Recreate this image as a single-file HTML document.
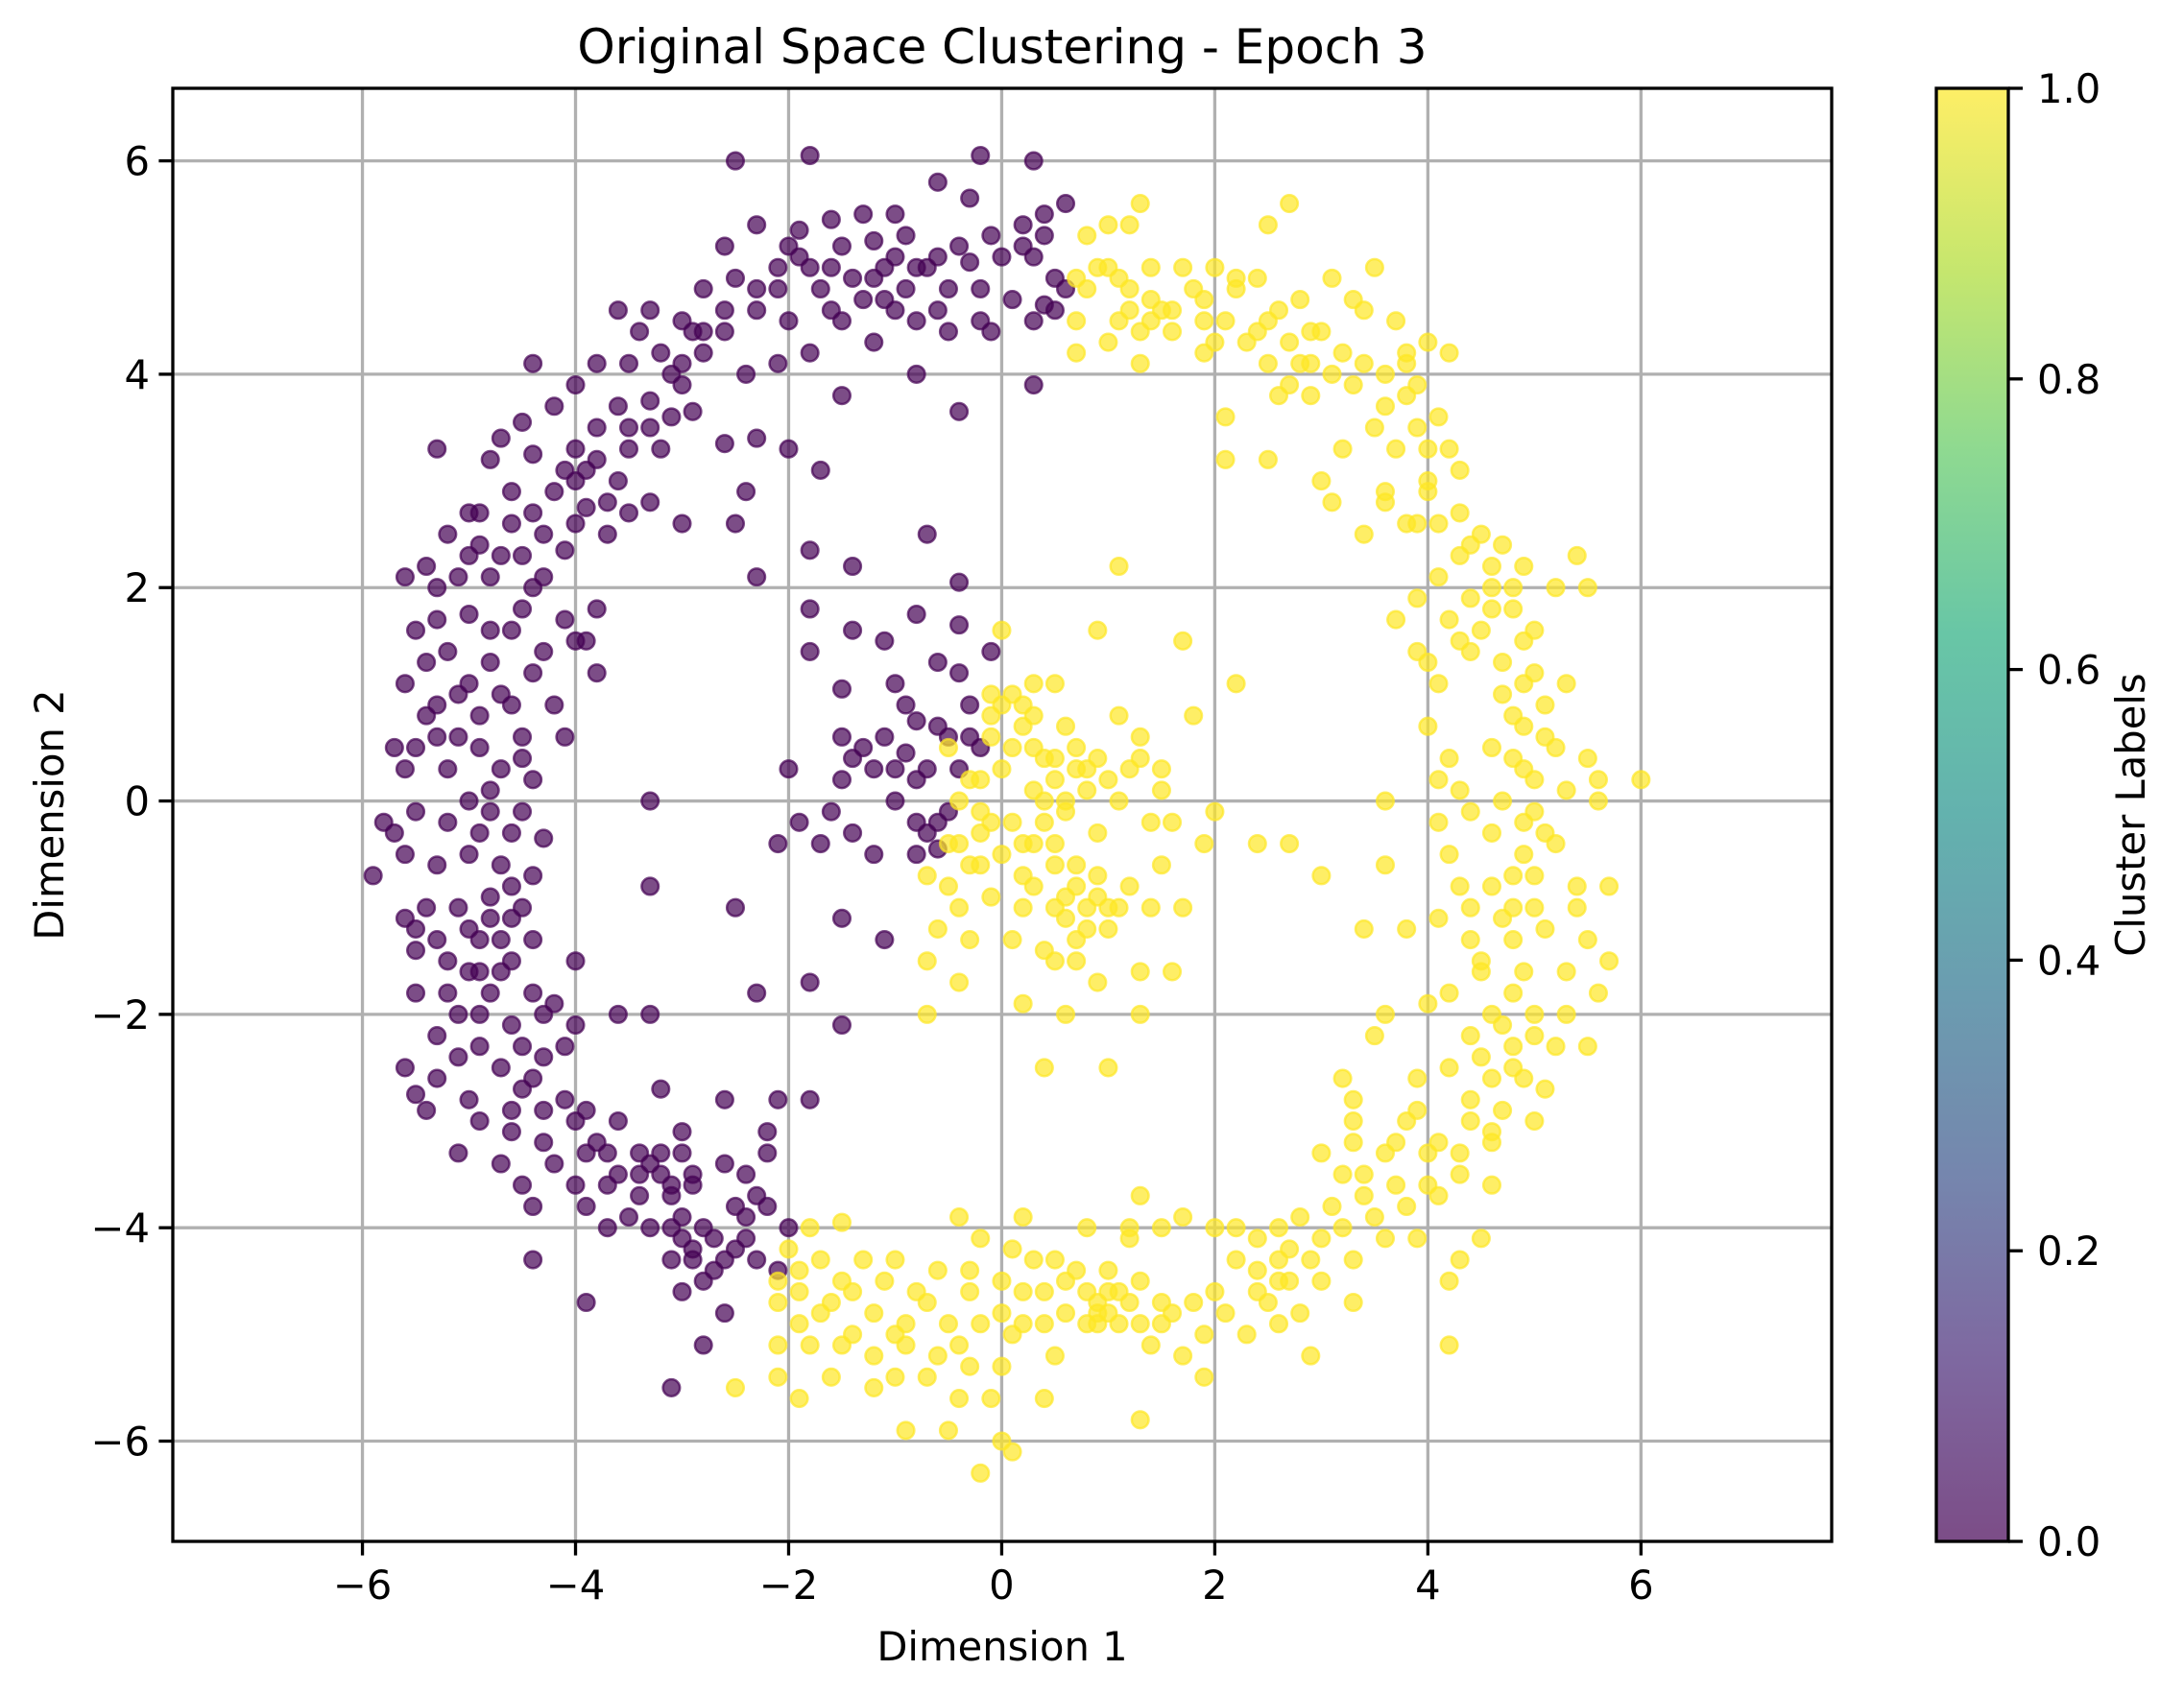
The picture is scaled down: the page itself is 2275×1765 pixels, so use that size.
<!DOCTYPE html>
<html><head><meta charset="utf-8">
<style>
html,body{margin:0;padding:0;background:#fff;}
svg{display:block;font-family:"DejaVu Sans","Liberation Sans",sans-serif;}
</style></head>
<body>
<svg id="chart" width="2275" height="1765" viewBox="0 0 2275 1765" xmlns="http://www.w3.org/2000/svg">
<defs>
<linearGradient id="viridis" x1="0" y1="1" x2="0" y2="0">
<stop offset="0" stop-color="#440154"/><stop offset="0.125" stop-color="#482878"/><stop offset="0.25" stop-color="#3b528b"/><stop offset="0.375" stop-color="#2c728e"/><stop offset="0.5" stop-color="#21918c"/><stop offset="0.625" stop-color="#28ae80"/><stop offset="0.75" stop-color="#5ec962"/><stop offset="0.875" stop-color="#addc30"/><stop offset="1" stop-color="#fde725"/>
</linearGradient>
</defs>
<text x="1044" y="66" font-size="50" text-anchor="middle">Original Space Clustering - Epoch 3</text>
<g id="grid"></g>
<g id="points"></g>
<rect x="180" y="92" width="1728" height="1514" fill="none" stroke="#000" stroke-width="3.3"/>
<g id="axes"></g>
<text x="1044" y="1730" font-size="41.7" text-anchor="middle">Dimension 1</text>
<text transform="translate(66,849) rotate(-90)" font-size="41.7" text-anchor="middle">Dimension 2</text>
<rect x="2017" y="92" width="75" height="1514" fill="url(#viridis)" fill-opacity="0.7" stroke="#000" stroke-width="3.3"/>
<g id="cbar"></g>
<text transform="translate(2234,849) rotate(-90)" font-size="41.7" text-anchor="middle">Cluster Labels</text>
</svg>
<script>
const xTicks = [-6,-4,-2,0,2,4,6];
const yTicks = [-6,-4,-2,0,2,4,6];
const cbarTicks = ["0.0","0.2","0.4","0.6","0.8","1.0"];
const cluster0 = [[-1.8,6.05],[-0.2,6.05],[-2.5,6.0],[0.3,6.0],[-0.6,5.8],[-0.3,5.65],[0.6,5.6],[0.4,5.5],[0.2,5.4],[-1.0,5.5],[-1.3,5.5],[-1.6,5.45],[-1.9,5.35],[-2.3,5.4],[-0.9,5.3],[-1.2,5.25],[-1.5,5.2],[-2.0,5.2],[-0.6,5.1],[-0.3,5.05],[0.0,5.1],[0.3,5.1],[0.5,4.9],[-0.8,5.0],[-1.1,5.0],[-1.4,4.9],[-1.8,5.0],[-2.1,4.8],[-2.6,5.2],[-2.5,4.9],[-2.8,4.8],[-3.0,4.5],[-1.7,4.8],[-0.9,4.8],[-0.5,4.8],[0.1,4.7],[0.4,4.65],[0.6,4.8],[-0.2,4.5],[-0.6,4.6],[-1.0,4.6],[-1.3,4.7],[-1.5,4.5],[-2.0,4.5],[-2.3,4.6],[-2.6,4.4],[-2.9,4.4],[-3.2,4.2],[-3.4,4.4],[-3.6,4.6],[-3.3,4.6],[-1.2,4.3],[-0.5,4.4],[-0.1,4.4],[-1.8,4.2],[-2.1,4.1],[-2.4,4.0],[-2.8,4.2],[-3.1,4.0],[-3.5,4.1],[-3.8,4.1],[-4.0,3.9],[-4.4,4.1],[-0.8,4.0],[0.3,3.9],[-0.4,3.65],[-1.5,3.8],[-2.3,3.4],[-2.0,3.3],[-2.6,3.35],[-2.9,3.65],[-3.0,3.9],[-3.3,3.75],[-3.6,3.7],[-3.8,3.5],[-4.2,3.7],[-4.5,3.55],[-4.1,3.1],[-3.5,3.5],[-3.2,3.3],[-2.4,2.9],[-1.7,3.1],[-4.0,3.3],[-3.6,3.0],[-3.3,2.8],[-3.5,2.7],[-3.9,2.75],[-4.7,3.4],[-4.8,3.2],[-4.4,3.25],[-4.6,2.9],[-5.3,3.3],[-5.0,2.7],[-5.2,2.5],[-4.9,2.4],[-4.6,2.6],[-4.3,2.5],[-4.0,2.6],[-3.7,2.5],[-3.0,2.6],[-4.1,2.35],[-4.5,2.3],[-4.8,2.1],[-5.0,2.3],[-5.4,2.2],[-5.6,2.1],[-4.4,2.0],[-4.1,1.7],[-3.8,1.8],[-3.9,1.5],[-4.6,1.6],[-5.0,1.75],[-5.3,1.7],[-5.5,1.6],[-5.2,1.4],[-4.8,1.3],[-4.4,1.2],[-4.0,1.5],[-3.8,1.2],[-5.6,1.1],[-5.1,1.0],[-4.6,0.9],[-4.2,0.9],[-4.9,0.8],[-5.4,0.8],[-5.7,0.5],[-5.3,0.6],[-4.5,0.6],[-4.1,0.6],[-4.7,0.3],[-5.2,0.3],[-5.6,0.3],[-5.0,0.0],[-4.4,0.2],[-5.8,-0.2],[-5.5,-0.1],[-4.8,-0.1],[-4.3,-0.35],[-4.6,-0.3],[-5.9,-0.7],[-5.6,-0.5],[-5.3,-0.6],[-5.0,-0.5],[-4.7,-0.6],[-4.4,-0.7],[-4.8,-0.9],[-5.1,-1.0],[-4.6,-1.1],[-4.4,-1.3],[-4.9,-1.3],[-5.5,-1.2],[-5.5,-1.4],[-4.7,-1.6],[-5.0,-1.6],[-4.4,-1.8],[-5.2,-1.8],[-5.5,-1.8],[-4.0,-1.5],[-4.2,-1.9],[-4.9,-2.0],[-4.6,-2.1],[-5.3,-2.2],[-4.0,-2.1],[-4.3,-2.4],[-4.7,-2.5],[-5.1,-2.4],[-5.6,-2.5],[-4.5,-2.7],[-4.1,-2.8],[-3.9,-2.9],[-4.6,-2.9],[-5.0,-2.8],[-5.5,-2.75],[-4.3,-3.2],[-3.8,-3.2],[-4.7,-3.4],[-5.1,-3.3],[-4.5,-3.6],[-4.0,-3.6],[-3.6,-3.0],[-3.4,-3.3],[-3.2,-3.5],[-3.0,-3.3],[-3.6,-3.5],[-3.9,-3.8],[-3.4,-3.7],[-3.1,-3.7],[-2.9,-3.6],[-2.6,-3.4],[-2.4,-3.5],[-2.2,-3.3],[-2.1,-2.8],[-2.6,-2.8],[-3.0,-3.1],[-3.2,-2.7],[-3.6,-2.0],[-3.3,-2.0],[-3.0,-3.9],[-3.3,-4.0],[-3.7,-4.0],[-2.8,-4.0],[-2.5,-3.8],[-2.2,-3.8],[-2.0,-4.0],[-2.4,-4.1],[-2.9,-4.3],[-2.6,-4.3],[-3.1,-4.3],[-2.8,-4.5],[-2.3,-4.3],[-2.6,-4.8],[-3.0,-4.6],[-2.8,-5.1],[-3.1,-5.5],[-3.9,-4.7],[-4.4,-4.3],[-2.1,-4.4],[-2.2,-3.1],[-0.7,2.5],[-0.4,2.05],[-1.8,2.35],[-2.3,2.1],[-1.8,1.8],[-1.4,1.6],[-0.8,1.75],[-0.4,1.65],[-1.1,1.5],[-0.6,1.3],[-1.8,1.4],[-0.1,1.4],[-1.5,1.05],[-1.0,1.1],[-0.4,1.2],[-0.3,0.9],[-0.6,0.7],[-0.8,0.75],[-1.5,0.6],[-1.1,0.6],[-0.9,0.45],[-1.4,0.4],[-1.2,0.3],[-0.4,0.3],[-0.2,0.5],[-0.8,0.2],[-1.5,0.2],[-2.0,0.3],[-0.5,-0.1],[-1.0,0.0],[-0.8,-0.2],[-1.4,-0.3],[-1.6,-0.1],[-1.9,-0.2],[-2.1,-0.4],[-1.2,-0.5],[-0.8,-0.5],[-0.6,-0.45],[-1.7,-0.4],[-1.5,-1.1],[-1.1,-1.3],[-2.5,-1.0],[-1.8,-1.7],[-1.5,-2.1],[-3.3,-0.8],[-3.3,0.0],[-2.3,-1.8],[-1.4,2.2],[-2.5,2.6],[-1.8,-2.8]];
const cluster0b = [[-5.0,1.1],[-4.7,1.0],[-5.3,0.9],[-4.9,0.5],[-4.5,0.4],[-5.1,0.6],[-4.8,0.1],[-4.5,-0.1],[-4.9,-0.3],[-5.2,-0.2],[-4.6,-0.8],[-4.8,-1.1],[-4.5,-1.0],[-4.7,-1.3],[-4.6,-1.5],[-4.9,-1.6],[-4.8,-1.8],[-5.1,-2.0],[-4.9,-2.3],[-4.5,-2.3],[-4.4,-2.6],[-4.6,-3.1],[-4.9,-3.0],[-4.2,-3.4],[-4.4,-3.8],[-3.9,-3.3],[-3.7,-3.6],[-3.5,-3.9],[-3.4,-3.5],[-3.2,-3.3],[-3.1,-3.6],[-2.9,-3.5],[-3.0,-4.1],[-2.9,-4.2],[-3.1,-4.0],[-2.7,-4.1],[-2.7,-4.4],[-2.5,-4.2],[-2.4,-3.9],[-2.3,-3.7],[-3.3,-3.4],[-3.7,-3.3],[-4.0,-3.0],[-4.3,-2.9],[-5.3,-2.6],[-5.4,-2.9],[-5.2,-1.5],[-5.4,-1.0],[-5.7,-0.3],[-5.5,0.5],[-5.4,1.3],[-5.3,2.0],[-5.1,2.1],[-4.7,2.3],[-4.4,2.7],[-4.2,2.9],[-4.0,3.0],[-3.8,3.2],[-3.5,3.3],[-3.3,3.5],[-3.1,3.6],[-3.0,4.1],[-2.8,4.4],[-2.6,4.6],[-2.3,4.8],[-2.1,5.0],[-1.9,5.1],[-1.6,5.0],[-1.2,4.9],[-1.0,5.1],[-0.7,5.0],[-0.4,5.2],[-0.1,5.3],[0.2,5.2],[0.4,5.3],[0.5,4.6],[0.3,4.5],[-0.2,4.8],[-0.8,4.5],[-1.1,4.7],[-1.6,4.6],[-3.9,3.1],[-3.7,2.8],[-4.3,2.1],[-4.9,2.7],[-4.5,1.8],[-4.3,1.4],[-4.8,1.6],[-5.6,-1.1],[-5.0,-1.2],[-5.3,-1.3],[-4.3,-2.0],[-4.1,-2.3],[-0.7,0.3],[-0.5,0.6],[-0.9,0.9],[-0.3,0.6],[-0.7,-0.3],[-0.6,-0.2],[-1.3,0.5],[-1.0,0.3]];
const cluster1 = [[0.7,4.9],[0.8,5.3],[1.0,5.4],[1.2,5.4],[1.3,5.6],[0.9,5.0],[1.1,4.9],[1.4,5.0],[1.7,5.0],[1.8,4.8],[2.0,5.0],[2.2,4.8],[2.4,4.9],[2.6,4.6],[2.8,4.7],[2.7,5.6],[2.5,5.4],[3.1,4.9],[3.3,4.7],[3.5,5.0],[3.4,4.6],[3.7,4.5],[1.2,4.6],[1.4,4.5],[1.6,4.4],[0.7,4.5],[1.0,4.3],[1.3,4.1],[0.7,4.2],[1.9,4.2],[2.1,4.5],[2.3,4.3],[2.5,4.1],[2.8,4.1],[3.0,4.4],[3.2,4.2],[2.6,3.8],[2.9,3.8],[3.3,3.9],[3.6,4.0],[3.8,4.2],[4.0,4.3],[4.2,4.2],[3.5,3.5],[3.8,3.8],[3.9,3.5],[4.1,3.6],[4.0,3.3],[4.3,3.1],[3.2,3.3],[3.0,3.0],[3.1,2.8],[3.6,2.8],[3.4,2.5],[3.8,2.6],[4.0,2.9],[4.3,2.7],[4.5,2.5],[4.3,2.3],[4.7,2.4],[4.9,2.2],[4.6,2.0],[4.1,2.1],[3.9,1.9],[4.2,1.7],[4.5,1.6],[4.8,1.8],[5.0,1.6],[5.2,2.0],[5.4,2.3],[5.5,2.0],[4.4,1.4],[4.7,1.3],[5.0,1.2],[5.3,1.1],[5.1,0.9],[4.8,0.8],[4.6,0.5],[4.2,0.4],[4.9,0.3],[5.2,0.5],[5.5,0.4],[5.6,0.2],[6.0,0.2],[5.3,0.1],[5.0,-0.1],[4.7,0.0],[4.4,-0.1],[4.1,-0.2],[4.6,-0.3],[4.9,-0.5],[5.2,-0.4],[5.4,-0.8],[5.7,-0.8],[5.0,-0.7],[4.6,-0.8],[4.3,-0.8],[4.1,-1.1],[3.8,-1.2],[4.4,-1.3],[4.8,-1.3],[5.1,-1.2],[5.5,-1.3],[5.7,-1.5],[5.3,-1.6],[4.9,-1.6],[4.5,-1.6],[4.2,-1.8],[4.0,-1.9],[4.6,-2.0],[5.0,-2.0],[5.3,-2.0],[5.6,-1.8],[5.5,-2.3],[5.2,-2.3],[4.8,-2.3],[4.4,-2.2],[4.2,-2.5],[3.9,-2.6],[4.6,-2.6],[4.9,-2.6],[5.1,-2.7],[5.0,-3.0],[4.7,-2.9],[4.4,-3.0],[4.1,-3.2],[3.8,-3.0],[3.6,-3.3],[3.3,-3.2],[3.2,-3.5],[3.0,-3.3],[4.3,-3.5],[4.6,-3.2],[4.6,-3.6],[4.0,-3.6],[3.8,-3.8],[3.4,-3.7],[3.1,-3.8],[2.8,-3.9],[2.6,-4.0],[2.4,-4.1],[2.2,-4.0],[2.0,-4.0],[1.7,-3.9],[1.3,-3.7],[1.5,-4.0],[1.2,-4.1],[3.3,-2.8],[3.2,-2.6],[3.5,-2.2],[3.9,-2.9],[3.6,-2.0],[3.0,-4.1],[2.7,-4.2],[3.3,-4.3],[3.6,-4.1],[3.9,-4.1],[4.3,-4.3],[4.5,-4.1],[4.2,-4.5],[4.2,-5.1],[3.3,-4.7],[3.0,-4.5],[2.7,-4.5],[2.4,-4.4],[2.2,-4.3],[2.0,-4.6],[2.5,-4.7],[2.8,-4.8],[2.9,-5.2],[2.6,-4.9],[2.3,-5.0],[1.9,-5.0],[1.6,-4.8],[1.3,-4.5],[1.1,-4.6],[0.9,-4.7],[1.0,-4.4],[0.7,-4.4],[0.5,-4.3],[0.3,-4.3],[0.1,-4.2],[-0.2,-4.1],[-0.4,-3.9],[0.2,-3.9],[0.8,-4.0],[0.6,-4.8],[0.8,-4.9],[1.0,-4.8],[1.3,-4.9],[1.5,-4.9],[1.7,-5.2],[1.9,-5.4],[1.4,-5.1],[1.3,-5.8],[0.5,-5.2],[0.4,-5.6],[0.2,-4.9],[0.0,-4.8],[-0.2,-4.9],[-0.5,-4.9],[-0.7,-4.7],[-0.9,-4.9],[-1.2,-4.8],[-1.4,-4.6],[-1.6,-4.7],[-1.9,-4.6],[-2.1,-4.7],[-2.1,-5.1],[-1.8,-5.1],[-1.5,-5.1],[-1.2,-5.2],[-0.9,-5.1],[-0.6,-5.2],[-0.3,-5.3],[0.0,-5.3],[-0.1,-5.6],[-0.4,-5.6],[-0.7,-5.4],[-1.0,-5.4],[-1.2,-5.5],[-1.6,-5.4],[-1.9,-5.6],[-2.1,-5.4],[-2.5,-5.5],[-0.5,-5.9],[-0.9,-5.9],[0.0,-6.0],[0.1,-6.1],[-0.2,-6.3],[-1.3,-4.3],[-1.7,-4.3],[-1.9,-4.4],[-2.0,-4.2],[-1.8,-4.0],[-1.5,-3.95],[-1.0,-4.3],[-0.6,-4.4],[-0.3,-4.6],[0.2,-4.6],[1.2,-4.0],[4.0,0.7],[3.9,1.4],[4.1,1.1],[3.7,1.7],[3.6,-0.6],[3.4,-1.2],[3.6,0.0],[5.6,0.0],[5.4,-1.0],[4.8,-1.0],[2.4,-0.4],[2.7,-0.4],[3.0,-0.7],[2.1,3.2],[2.5,3.2],[2.1,3.6],[0.0,1.6],[0.3,1.1],[0.5,1.1],[0.2,0.9],[0.0,0.9],[-0.1,1.0],[0.6,0.7],[0.2,0.7],[-0.1,0.6],[0.1,0.5],[0.4,0.4],[0.7,0.5],[0.9,0.4],[1.1,0.8],[1.3,0.6],[1.2,0.3],[1.5,0.3],[1.8,0.8],[2.2,1.1],[1.7,1.5],[1.1,2.2],[0.9,1.6],[0.8,0.1],[0.5,0.2],[0.3,0.1],[0.0,0.3],[-0.3,0.2],[-0.4,0.0],[-0.2,-0.1],[0.1,-0.2],[0.4,-0.2],[0.6,-0.1],[0.9,-0.3],[1.1,0.0],[1.4,-0.2],[1.6,-0.2],[1.9,-0.4],[2.0,-0.1],[-0.5,-0.4],[-0.3,-0.6],[0.0,-0.5],[0.2,-0.7],[0.5,-0.6],[0.7,-0.8],[0.9,-0.7],[1.2,-0.8],[1.5,-0.6],[1.4,-1.0],[1.1,-1.0],[0.8,-1.0],[0.5,-1.0],[0.2,-1.0],[-0.1,-0.9],[-0.4,-1.0],[-0.6,-1.2],[-0.3,-1.3],[0.1,-1.3],[0.4,-1.4],[0.7,-1.3],[1.0,-1.2],[1.3,-1.6],[1.6,-1.6],[0.9,-1.7],[0.5,-1.5],[-0.7,-1.5],[-0.4,-1.7],[-0.7,-2.0],[0.2,-1.9],[0.6,-2.0],[1.3,-2.0],[1.0,-2.5],[0.4,-2.5],[-0.5,0.5],[-0.2,-0.3],[-0.7,-0.7],[0.3,-0.4],[0.7,0.3],[1.7,-1.0],[1.5,0.1],[0.3,0.5]];
const cluster1b = [[1.2,4.8],[1.4,4.7],[1.5,4.6],[1.3,4.4],[1.1,4.5],[1.6,4.6],[1.9,4.5],[2.2,4.9],[2.0,4.3],[2.5,4.5],[2.7,4.3],[2.9,4.1],[3.1,4.0],[2.7,3.9],[3.4,4.1],[3.6,3.7],[3.7,3.3],[4.0,3.0],[4.2,3.3],[4.1,2.6],[4.4,2.4],[4.6,2.2],[4.8,2.0],[4.6,1.8],[4.9,1.5],[4.7,1.0],[4.9,1.1],[5.1,0.6],[4.9,0.7],[4.8,0.4],[5.0,0.2],[4.9,-0.2],[5.1,-0.3],[4.8,-0.7],[5.0,-1.0],[4.7,-1.1],[4.5,-1.5],[4.8,-1.8],[4.7,-2.1],[5.0,-2.2],[4.8,-2.5],[4.5,-2.4],[4.4,-2.8],[4.6,-3.1],[4.3,-3.3],[4.0,-3.3],[4.1,-3.7],[3.7,-3.6],[3.5,-3.9],[3.2,-4.0],[2.9,-4.3],[2.6,-4.3],[2.4,-4.6],[2.6,-4.5],[1.1,-4.9],[0.9,-4.8],[1.0,-4.6],[0.8,-4.6],[1.2,-4.7],[0.9,-4.9],[0.6,-4.5],[0.4,-4.6],[0.0,-4.5],[-0.3,-4.4],[-0.8,-4.6],[-1.1,-4.5],[-1.5,-4.5],[-1.7,-4.8],[-1.9,-4.9],[-2.1,-4.5],[-1.4,-5.0],[-1.0,-5.0],[-0.4,-5.1],[0.1,-5.0],[0.4,-4.9],[1.5,-4.7],[1.8,-4.7],[2.1,-4.8],[3.4,-3.5],[3.7,-3.2],[3.3,-3.0],[0.8,0.3],[1.0,0.2],[0.6,0.0],[0.4,0.0],[0.2,-0.4],[0.5,-0.4],[0.7,-0.6],[0.9,-0.9],[0.6,-0.9],[0.3,-0.8],[0.8,-1.2],[0.6,-1.1],[1.0,-1.0],[0.7,-1.5],[-0.2,0.2],[-0.1,-0.2],[-0.4,-0.4],[-0.5,-0.8],[-0.2,-0.6],[-0.1,0.8],[0.1,1.0],[0.3,0.8],[0.5,0.4],[1.3,0.4],[4.1,0.2],[4.3,0.1],[4.2,-0.5],[4.4,-1.0],[4.3,1.5],[4.4,1.9],[4.0,1.3],[3.9,2.6],[3.6,2.9],[3.9,3.9],[3.8,4.1],[2.4,4.4],[2.9,4.4],[1.9,4.7],[0.8,4.8],[1.0,5.0]];

const NS = "http://www.w3.org/2000/svg";
const L = 180, R = 1908, T = 92, B = 1606;
const xMin = -7.78, xMax = 7.79, yMin = -6.94, yMax = 6.68;
function sx(v){ return L + (v - xMin) / (xMax - xMin) * (R - L); }
function sy(v){ return B - (v - yMin) / (yMax - yMin) * (B - T); }
function mk(tag, attrs, parent){ const e = document.createElementNS(NS, tag); for (const k in attrs) e.setAttribute(k, attrs[k]); parent.appendChild(e); return e; }
const grid = document.getElementById('grid'), axes = document.getElementById('axes');
const fmt = v => (v < 0 ? '\u2212' + Math.abs(v) : String(v));
xTicks.forEach(v => {
  const x = sx(v);
  const g = mk('line', {x1:x, x2:x, y1:T, y2:B, stroke:'#b0b0b0', 'stroke-width':3.3}, grid);
  
  
  const t = mk('line', {x1:x, x2:x, y1:B, y2:B+14.6, stroke:'#000', 'stroke-width':3.3}, axes);
  
  
  const lb = mk('text', {x:x, y:B+60, 'font-size':41.7, 'text-anchor':'middle'}, axes);
  lb.textContent = fmt(v);
  
  
});
yTicks.forEach(v => {
  const y = sy(v);
  const g = mk('line', {x1:L, x2:R, y1:y, y2:y, stroke:'#b0b0b0', 'stroke-width':3.3}, grid);
  
  
  const t = mk('line', {x1:L-14.6, x2:L, y1:y, y2:y, stroke:'#000', 'stroke-width':3.3}, axes);
  
  
  const lb = mk('text', {x:L-24, y:y+15, 'font-size':41.7, 'text-anchor':'end'}, axes);
  lb.textContent = fmt(v);
  
  
});
const pts = document.getElementById('points');
function drawCluster(arr, color, name){
  arr.forEach(p => {
    const c = mk('circle', {cx:sx(p[0]), cy:sy(p[1]), r:8.8, fill:color, stroke:color, 'stroke-width':2.5, 'fill-opacity':0.7, 'stroke-opacity':0.7}, pts);
    
    
  });
}
drawCluster(cluster0, '#440154', 'cluster-0-point');
drawCluster(cluster0b, '#440154', 'cluster-0-point');
drawCluster(cluster1, '#fde725', 'cluster-1-point');
drawCluster(cluster1b, '#fde725', 'cluster-1-point');
const cb = document.getElementById('cbar');
cbarTicks.forEach((s, i) => {
  const y = B - (parseFloat(s)) * (B - T);
  const t = mk('line', {x1:2092, x2:2107, y1:y, y2:y, stroke:'#000', 'stroke-width':3.3}, cb);
  
  
  const lb = mk('text', {x:2122, y:y+15, 'font-size':41.7}, cb);
  lb.textContent = s;
  
  
});
</script>
</body></html>
